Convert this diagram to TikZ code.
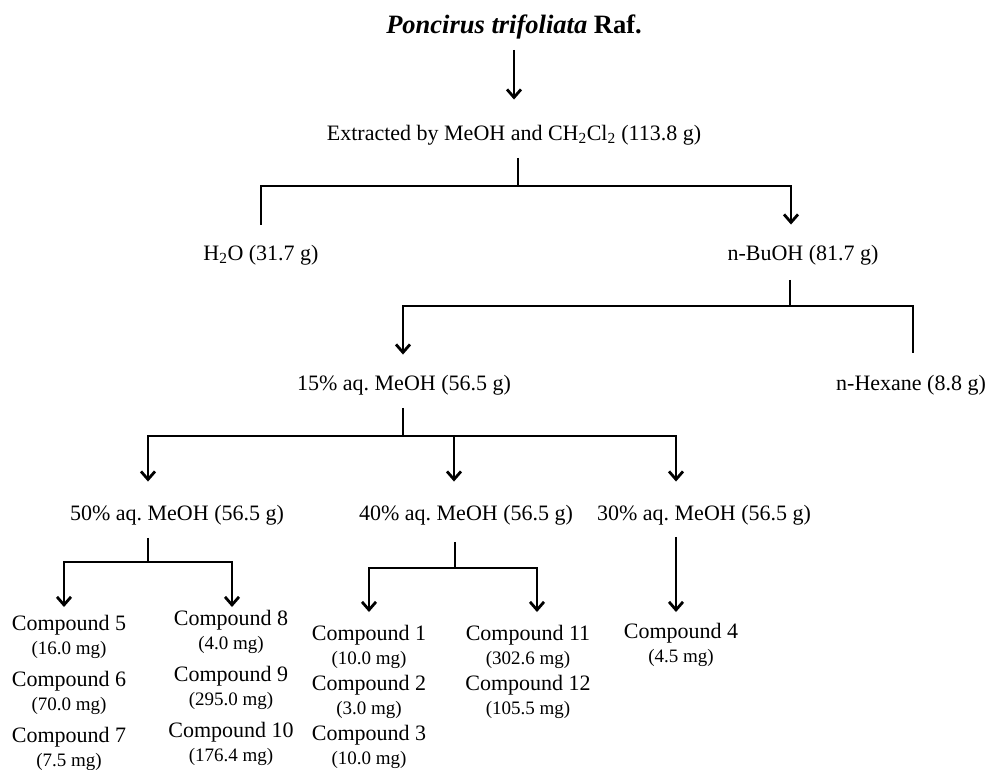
\documentclass[tikz,border=0pt]{standalone}
\usepackage{fontspec}
\setmainfont{Liberation Serif}
\usepackage{tikz}
\usetikzlibrary{arrows.meta,positioning}

\newcommand{\mgsize}{\fontsize{19}{24}\selectfont}
\frenchspacing

\begin{document}
\begin{tikzpicture}[x=1pt,y=-1pt]

\tikzset{myline/.style={line width=2.8pt},
myarrow/.style={-{Straight Barb[length=8pt,width=14pt]}, line width=2.8pt},
mytext/.style={inner sep=0pt, anchor=base, font=\fontsize{22}{25}\selectfont},
mycomp/.style={inner sep=0pt, anchor=north, align=center, font=\fontsize{22}{24}\selectfont}}

    \useasboundingbox (0,0) rectangle (990,769);

    % Extraction
    \node[inner sep=0pt, anchor=base, font=\fontsize{26.5}{30}\selectfont\bfseries] (plant) at (514,33)
    {\textit{Poncirus trifoliata} Raf.};
    \node[mytext] (extr) at (514,140) {Extracted by MeOH and CH\textsubscript{2}Cl\textsubscript{2} (113.8 g)};
    \draw[myarrow, shorten <=11pt, shorten >=25pt] (plant) -- (extr);

    % First partition
    \node[mytext] (water) at (261,260) {H\textsubscript{2}O (31.7 g)};
    \node[mytext] (buoh) at (803,260) {n-BuOH (81.7 g)};
    \coordinate (j1) at (518,186);
    \draw[myline, shorten <=13pt] (extr.south -| j1) -- (j1);
    \draw[myline, shorten >=20pt] (j1) -| (water.north);
    \draw[myarrow, shorten >=20pt] (j1) -| ([xshift=-12pt]buoh.north);

    % Second partition
    \node[mytext] (aq15) at (404,390) {15\% aq. MeOH (56.5 g)};
    \node[mytext] (hexane) at (911,390) {n-Hexane (8.8 g)};
    \coordinate (j2) at (790,306);
    \draw[myline, shorten <=15pt] (buoh.south -| j2) -- (j2);
    \draw[myarrow, shorten >=20pt] (j2) -| ([xshift=-1pt]aq15.north);
    \draw[myline, shorten >=22pt] (j2) -| ([xshift=2pt]hexane.north);

    % Column fractions
    \node[mytext] (aq50) at (177,520) {50\% aq. MeOH (56.5 g)};
    \node[mytext] (aq40) at (466,520) {40\% aq. MeOH (56.5 g)};
    \node[mytext] (aq30) at (704,520) {30\% aq. MeOH (56.5 g)};
    \coordinate (j3) at (403,436);
    \draw[myline, shorten <=13pt] (aq15.south -| j3) -- (j3);
    \draw[myarrow, shorten >=23pt] (j3) -| ([xshift=-29pt]aq50.north);
    \draw[myarrow, shorten >=23pt] (j3) -| ([xshift=-12pt]aq40.north);
    \draw[myarrow, shorten >=23pt] (j3) -| ([xshift=-28pt]aq30.north);

    % Compounds from 50%
    \node[mycomp] (c5) at (69,615) {Compound 5\\{\mgsize (16.0 mg)}};
    \node[mycomp] (c6) at (69,671) {Compound 6\\{\mgsize (70.0 mg)}};
    \node[mycomp] (c7) at (69,727) {Compound 7\\{\mgsize (7.5 mg)}};
    \node[mycomp] (c8) at (231,610) {Compound 8\\{\mgsize (4.0 mg)}};
    \node[mycomp] (c9) at (231,666) {Compound 9\\{\mgsize (295.0 mg)}};
    \node[mycomp] (c10) at (231,722) {Compound 10\\{\mgsize (176.4 mg)}};
    \coordinate (j4) at (148,562);
    \draw[myline, shorten <=13pt] (aq50.south -| j4) -- (j4);
    \draw[myarrow, shorten >=8pt] (j4) -| ([xshift=-5pt]c5.north);
    \draw[myarrow, shorten >=3pt] (j4) -| ([xshift=1pt]c8.north);

    % Compounds from 40%
    \node[mycomp] (c1) at (369,625) {Compound 1\\{\mgsize (10.0 mg)}};
    \node[mycomp] (c2) at (369,675) {Compound 2\\{\mgsize (3.0 mg)}};
    \node[mycomp] (c3) at (369,725) {Compound 3\\{\mgsize (10.0 mg)}};
    \node[mycomp] (c11) at (528,625) {Compound 11\\{\mgsize (302.6 mg)}};
    \node[mycomp] (c12) at (528,675) {Compound 12\\{\mgsize (105.5 mg)}};
    \coordinate (j5) at (455,568);
    \draw[myline, shorten <=17pt] (aq40.south -| j5) -- (j5);
    \draw[myarrow, shorten >=13pt] (j5) -| (c1.north);
    \draw[myarrow, shorten >=13pt] (j5) -| ([xshift=9pt]c11.north);

    % Compound from 30%
    \node[mycomp] (c4) at (681,623) {Compound 4\\{\mgsize (4.5 mg)}};
    \draw[myarrow, shorten <=12pt, shorten >=11pt] ([xshift=-28pt]aq30.south) -- ([xshift=-5pt]c4.north);

\end{tikzpicture}
\end{document}
